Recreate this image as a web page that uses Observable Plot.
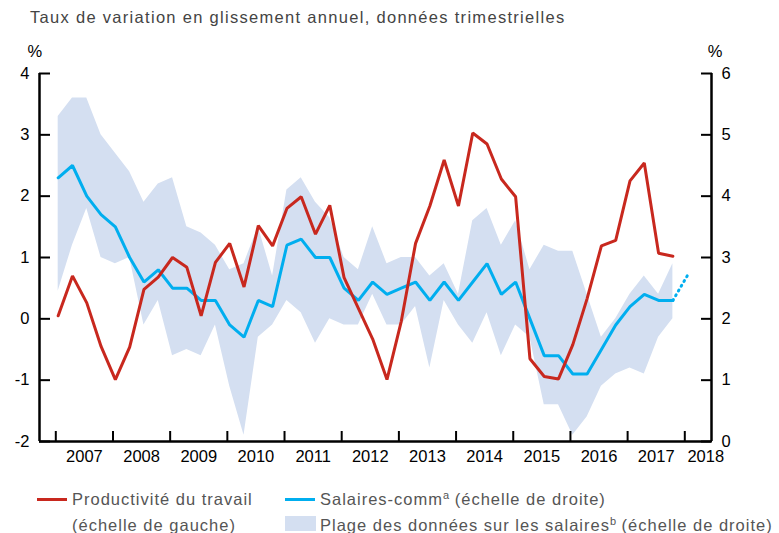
<!DOCTYPE html>
<html><head><meta charset="utf-8">
<script src="https://cdn.jsdelivr.net/npm/d3@7"></script>
<script src="https://cdn.jsdelivr.net/npm/@observablehq/plot@0.6"></script>
<style>
body{margin:0;background:#fff;font-family:"Liberation Sans",Arial,sans-serif;}
#wrap{width:779px;height:533px;position:relative;overflow:hidden;}
#title{height:36px;box-sizing:border-box;padding:7px 0 0 30px;font-size:16.5px;letter-spacing:1.3px;line-height:20px;color:#444;white-space:nowrap;}
#legend{position:relative;height:51px;font-size:16.5px;letter-spacing:1px;line-height:20px;color:#555;}
#legend .t{position:absolute;white-space:nowrap;}
#legend .sw{position:absolute;}
#legend sup{font-size:11px;vertical-align:6px;line-height:0;letter-spacing:0;}
#chart svg{display:block;}
</style></head>
<body><div id="wrap">
<div id="title">Taux de variation en glissement annuel, données trimestrielles</div>
<div id="chart"></div>
<div id="legend">
  <div class="sw" style="left:37px;top:16px;width:30px;height:3px;background:#c8281e"></div>
  <div class="t" style="left:72px;top:7px">Productivité du travail</div>
  <div class="t" style="left:72px;top:33px">(échelle de gauche)</div>
  <div class="sw" style="left:285px;top:16px;width:30px;height:3px;background:#00aeef"></div>
  <div class="t" style="left:320px;top:7px">Salaires-comm<sup>a</sup> (échelle de droite)</div>
  <div class="sw" style="left:285px;top:34px;width:31px;height:15px;background:#d4dff1"></div>
  <div class="t" style="left:320px;top:33px">Plage des données sur les salaires<sup>b</sup> (échelle de droite)</div>
</div>
</div>
<script>
// Quarterly data, 2007 T1 – 2017 T4
const years = [2007,2008,2009,2010,2011,2012,2013,2014,2015,2016,2017];
const quarters = [1,2,3,4];
// Labour productivity (left scale, %)
const productivity = [0.05,0.70,0.26,-0.45, -0.99,-0.46,0.48,0.68, 1.00,0.84,0.05,0.92,
  1.23,0.52,1.52,1.19, 1.80,1.99,1.38,1.85, 0.67,0.17,-0.33,-0.99,
  -0.04,1.23,1.84,2.59, 1.84,3.03,2.85,2.28, 1.99,-0.65,-0.94,-0.98,
  -0.42,0.33,1.19,1.28, 2.25,2.54,1.07,1.02];
// Wages (right scale, %)
const wages = [4.3,4.5,4.0,3.7, 3.5,3.0,2.6,2.8, 2.5,2.5,2.3,2.3,
  1.9,1.7,2.3,2.2, 3.2,3.3,3.0,3.0, 2.5,2.3,2.6,2.4,
  2.5,2.6,2.3,2.6, 2.3,2.6,2.9,2.4, 2.6,2.0,1.4,1.4,
  1.1,1.1,1.5,1.9, 2.2,2.4,2.3,2.3];
// Wage extension (dotted), 2017 T4 -> 2018 T1
const wageExtPeriods = [[2017,4],[2018,1]];
const wageExt = [2.3, 2.7];
// Range of wage measures (right scale, %)
const bandHigh = [5.3,5.6,5.6,5.0, 4.7,4.4,3.9,4.2, 4.3,3.5,3.4,3.2,
  2.8,2.9,3.5,2.7, 4.1,4.3,3.9,3.65, 3.0,2.8,3.5,2.9,
  3.0,3.0,2.7,2.9, 2.4,3.6,3.8,3.2, 3.6,2.8,3.2,3.1,
  3.1,2.4,1.7,2.0, 2.4,2.7,2.4,2.9];
const bandLow = [2.45,3.2,3.8,3.0, 2.9,3.0,1.9,2.3, 1.4,1.5,1.4,1.9,
  0.9,0.1,1.7,1.9, 2.3,2.1,1.6,2.0, 1.9,1.9,2.4,1.9,
  1.9,2.2,1.2,2.3, 1.9,1.6,2.1,1.4, 1.9,1.7,0.6,0.6,
  0.1,0.4,0.9,1.1, 1.2,1.1,1.7,2.0];
const yearTicks = [2007,2008,2009,2010,2011,2012,2013,2014,2015,2016,2017,2018];
const leftTicks = [-2,-1,0,1,2,3,4];
const rightOffset = 2; // right scale = left scale + 2

const tOf = (y, q) => y + (q - 1) / 4 + 1 / 24;
const periods = years.flatMap(y => quarters.map(q => tOf(y, q)));
const rows = periods.map((t, i) => ({t, prod: productivity[i], wage: wages[i], lo: bandLow[i], hi: bandHigh[i]}));
const ext = wageExtPeriods.map(([y, q], i) => ({t: tOf(y, q), v: wageExt[i]}));
const xDomain = [2006.715, 2018.467];

const chart = Plot.plot({
  width: 779, height: 446,
  marginLeft: 39, marginRight: 68, marginTop: 37, marginBottom: 41,
  style: {fontFamily: "'Liberation Sans', Arial, sans-serif", fontSize: "16.5px", color: "#000", background: "#fff"},
  x: {domain: xDomain, axis: null},
  y: {domain: [-2, 4], axis: null},
  marks: [
    Plot.areaY(rows, {x: "t", y1: d => d.lo - rightOffset, y2: d => d.hi - rightOffset, fill: "#d4dff1"}),
    Plot.lineY(rows, {x: "t", y: d => d.wage - rightOffset, stroke: "#00aeef", strokeWidth: 3, strokeLinejoin: "miter"}),
    Plot.lineY(ext, {x: "t", y: d => d.v - rightOffset, stroke: "#00aeef", strokeWidth: 3, strokeDasharray: "1,4.5", strokeLinecap: "round"}),
    Plot.lineY(rows, {x: "t", y: "prod", stroke: "#c8281e", strokeWidth: 3, strokeLinejoin: "miter"}),
    Plot.axisY({anchor: "left", ticks: leftTicks, tickFormat: d => String(d), tickSize: -11, tickPadding: 21, strokeWidth: 2, label: null}),
    Plot.axisY({anchor: "right", ticks: leftTicks, tickFormat: d => String(d + rightOffset), tickSize: -11, tickPadding: 21, strokeWidth: 2, label: null}),
    Plot.axisX({ticks: yearTicks, tickSize: -10, tickFormat: () => "", strokeWidth: 2, label: null}),
    Plot.text(yearTicks, {x: d => Math.min(d + 0.5, xDomain[1] - 0.1), frameAnchor: "bottom", dy: 20, text: d => String(d), fill: "#000"}),
    Plot.ruleY([-2], {strokeWidth: 2.5, stroke: "#000"}),
    Plot.ruleX(xDomain, {strokeWidth: 2.5, stroke: "#000"}),
    Plot.text(["%"], {frameAnchor: "top-left", dx: -12, dy: -28, text: d => d, fill: "#000"}),
    Plot.text(["%"], {frameAnchor: "top-right", dx: 11, dy: -28, text: d => d, fill: "#000"})
  ]
});
document.getElementById("chart").appendChild(chart);
</script>
</body></html>
